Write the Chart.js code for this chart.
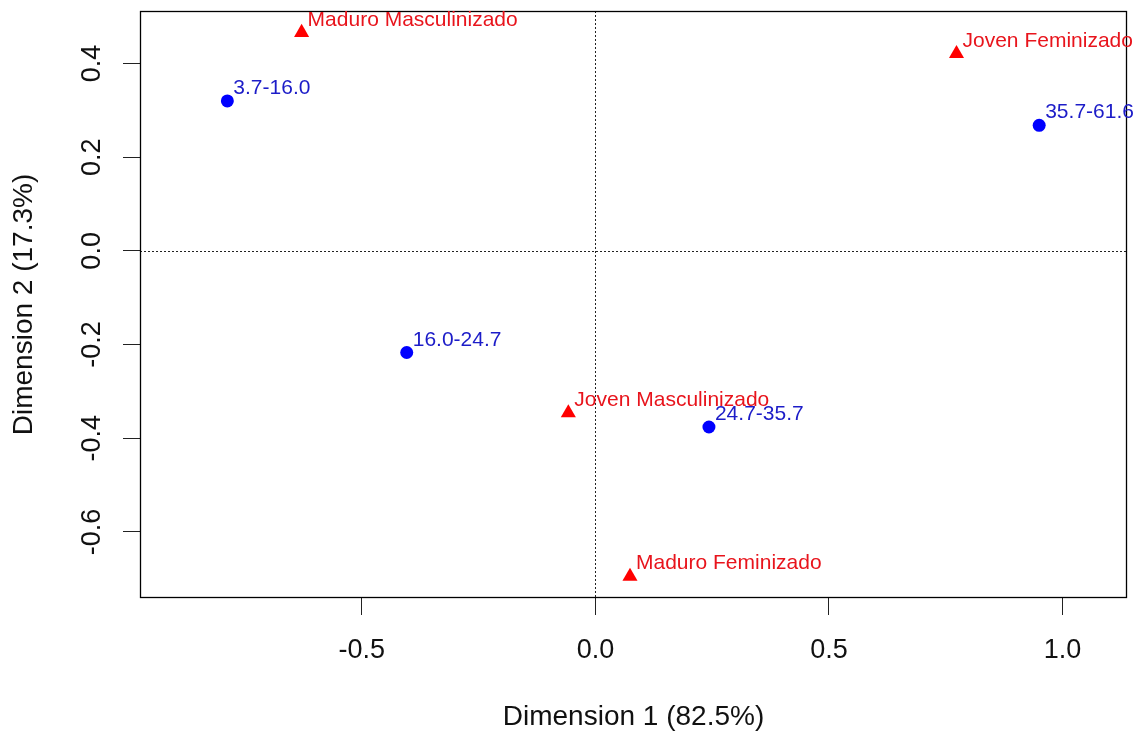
<!DOCTYPE html>
<html>
<head>
<meta charset="utf-8">
<script src="https://cdn.jsdelivr.net/npm/chart.js@4.4.1/dist/chart.umd.min.js"></script>
<style>
  html, body { margin: 0; padding: 0; background: #ffffff; }
  #c { display: block; }
</style>
</head>
<body>
<canvas id="c" width="1136" height="733"></canvas>
<script>
// ---- data ----
const rowLabels = ['3.7-16.0', '16.0-24.7', '24.7-35.7', '35.7-61.6'];
const rowX = [-0.788, -0.404, 0.243, 0.950];
const rowY = [0.320, -0.217, -0.376, 0.268];

const colLabels = ['Maduro Masculinizado', 'Joven Feminizado', 'Joven Masculinizado', 'Maduro Feminizado'];
const colX = [-0.629, 0.773, -0.058, 0.074];
const colY = [0.466, 0.421, -0.346, -0.695];

const xTickValues = [-0.5, 0.0, 0.5, 1.0];
const xTickLabels = ['-0.5', '0.0', '0.5', '1.0'];
const yTickValues = [-0.6, -0.4, -0.2, 0.0, 0.2, 0.4];
const yTickLabels = ['-0.6', '-0.4', '-0.2', '0.0', '0.2', '0.4'];

const xTitle = 'Dimension 1 (82.5%)';
const yTitle = 'Dimension 2 (17.3%)';

// ---- helpers ----
const FONT = "'Liberation Sans', Arial, Helvetica, sans-serif";
function toPoints(xs, ys) { return xs.map((x, i) => ({ x: x, y: ys[i] })); }

const pointLabelPlugin = {
  id: 'pointLabels',
  afterDatasetsDraw(chart) {
    const ctx = chart.ctx;
    ctx.save();
    ctx.font = '21px ' + FONT;
    ctx.textAlign = 'left';
    ctx.textBaseline = 'alphabetic';
    chart.data.datasets.forEach((ds, di) => {
      const meta = chart.getDatasetMeta(di);
      ctx.fillStyle = ds.labelColor;
      meta.data.forEach((el, i) => {
        ctx.fillText(ds.pointLabels[i], el.x + 6, el.y - 7);
      });
    });
    ctx.restore();
  }
};

const frameAndZeroPlugin = {
  id: 'frameAndZero',
  beforeDatasetsDraw(chart) {
    const ctx = chart.ctx;
    const a = chart.chartArea;
    const xs = chart.scales.x, ys = chart.scales.y;
    const x0 = Math.round(xs.getPixelForValue(0)) + 0.5;
    const y0 = Math.round(ys.getPixelForValue(0)) + 0.5;
    ctx.save();
    ctx.strokeStyle = '#222';
    ctx.lineWidth = 1;
    ctx.setLineDash([2, 2]);
    ctx.beginPath();
    ctx.moveTo(x0, a.top); ctx.lineTo(x0, a.bottom);
    ctx.moveTo(a.left, y0); ctx.lineTo(a.right, y0);
    ctx.stroke();
    ctx.setLineDash([]);
    ctx.strokeStyle = '#000';
    ctx.lineWidth = 1.3;
    ctx.strokeRect(a.left + 0.5, a.top + 0.5, a.right - a.left - 1, a.bottom - a.top - 1);
    ctx.restore();
  }
};

function zeroPadding(scale) {
  scale.paddingTop = 0; scale.paddingBottom = 0;
  scale.paddingLeft = 0; scale.paddingRight = 0;
}

new Chart(document.getElementById('c'), {
  type: 'scatter',
  data: {
    datasets: [
      {
        label: 'rows',
        data: toPoints(rowX, rowY),
        pointStyle: 'circle',
        pointRadius: 6.5,
        pointHoverRadius: 6.5,
        backgroundColor: '#0000ff',
        borderColor: '#0000ff',
        borderWidth: 0,
        pointLabels: rowLabels,
        labelColor: '#1c1cc8'
      },
      {
        label: 'cols',
        data: toPoints(colX, colY),
        pointStyle: 'triangle',
        pointRadius: 8.7,
        pointHoverRadius: 8.7,
        backgroundColor: '#ff0000',
        borderColor: '#ff0000',
        borderWidth: 0,
        pointLabels: colLabels,
        labelColor: '#e8141c'
      }
    ]
  },
  options: {
    responsive: false,
    animation: false,
    events: [],
    layout: { padding: { top: 11, right: 9, left: 0, bottom: 0 } },
    plugins: {
      legend: { display: false },
      tooltip: { enabled: false }
    },
    scales: {
      x: {
        type: 'linear',
        position: 'bottom',
        min: -0.975,
        max: 1.138,
        afterBuildTicks(scale) { scale.ticks = xTickValues.map(v => ({ value: v })); },
        afterFit(scale) { scale.height = 135; zeroPadding(scale); },
        ticks: {
          callback: (v, i) => xTickLabels[i],
          color: '#111',
          font: { family: FONT, size: 27 },
          padding: 19,
          maxRotation: 0,
          minRotation: 0,
          autoSkip: false
        },
        grid: {
          drawOnChartArea: false,
          drawTicks: true,
          tickLength: 17,
          tickColor: '#222',
          tickWidth: 1,
          color: '#222'
        },
        border: { display: false },
        title: {
          display: true,
          text: xTitle,
          color: '#111',
          font: { family: FONT, size: 28 },
          padding: { top: 0, bottom: -1 }
        }
      },
      y: {
        type: 'linear',
        position: 'left',
        min: -0.741,
        max: 0.512,
        afterBuildTicks(scale) { scale.ticks = yTickValues.map(v => ({ value: v })); },
        afterFit(scale) { scale.width = 140; zeroPadding(scale); },
        ticks: {
          callback: (v, i) => yTickLabels[i],
          color: '#111',
          font: { family: FONT, size: 27 },
          padding: 7,
          minRotation: 90,
          maxRotation: 90,
          crossAlign: 'center',
          autoSkip: false
        },
        grid: {
          drawOnChartArea: false,
          drawTicks: true,
          tickLength: 17,
          tickColor: '#222',
          tickWidth: 1,
          color: '#222'
        },
        border: { display: false },
        title: {
          display: true,
          text: yTitle,
          color: '#111',
          font: { family: FONT, size: 28 },
          padding: { top: 7, bottom: 0 }
        }
      }
    }
  },
  plugins: [frameAndZeroPlugin, pointLabelPlugin]
});
</script>
</body>
</html>
